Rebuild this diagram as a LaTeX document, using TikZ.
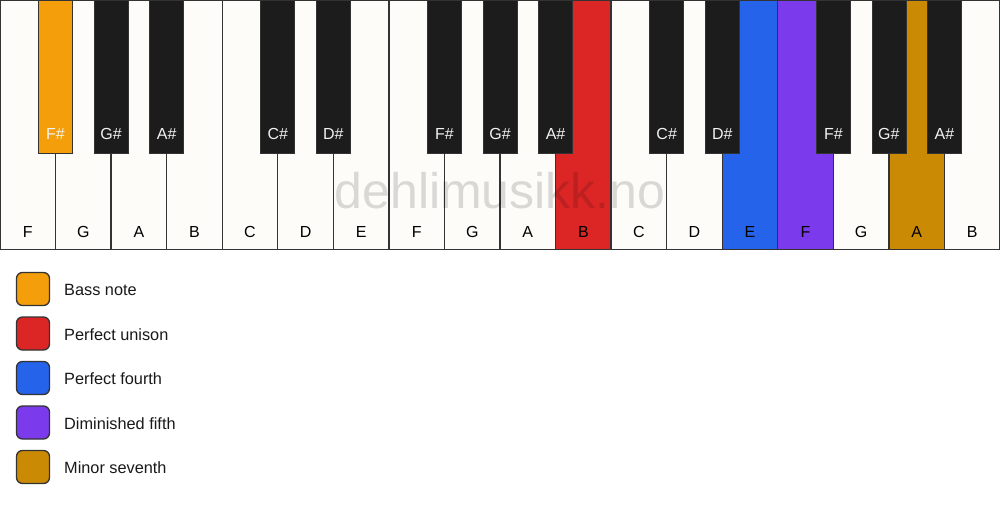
\documentclass[tikz,border=0pt]{standalone}
\usepackage{fontspec}
\setmainfont{Liberation Sans}
\definecolor{keywhite}{HTML}{FDFCF8}
\definecolor{keyblack}{HTML}{1C1C1C}
\definecolor{keyline}{HTML}{333333}
\definecolor{cbass}{HTML}{F59E0B}
\definecolor{cunison}{HTML}{DC2626}
\definecolor{cfourth}{HTML}{2563EB}
\definecolor{cfifth}{HTML}{7C3AED}
\definecolor{cseventh}{HTML}{CA8A04}
\tikzset{
  whitekey/.style={draw=keyline, line width=1.4pt, fill=keywhite},
  blackkey/.style={draw=keyline, line width=0.8pt, fill=keyblack},
  wlabel/.style={anchor=base, font=\fontsize{16}{16}\selectfont, text=black, inner sep=0pt},
  blabel/.style={anchor=base, font=\fontsize{16}{16}\selectfont, text=white!95!black, inner sep=0pt},
  legbox/.style={draw=keyline, line width=1.3pt, rounded corners=6pt, minimum width=33pt, minimum height=33pt, inner sep=0pt},
  legtext/.style={anchor=base west, font=\fontsize{16.3}{17}\selectfont, text=black!90, inner sep=0pt}
}
\begin{document}
\begin{tikzpicture}[x=1pt,y=-1pt]
\useasboundingbox[fill=white] (0,0) rectangle (1000,506);
\def\kw{55.5556}
% white keys
\foreach \n/\c [count=\i from 0] in {F/keywhite,G/keywhite,A/keywhite,B/keywhite,C/keywhite,D/keywhite,E/keywhite,F/keywhite,G/keywhite,A/keywhite,B/cunison,C/keywhite,D/keywhite,E/cfourth,F/cfifth,G/keywhite,A/cseventh,B/keywhite}{
  \path[whitekey, fill=\c] (\i*\kw,0) rectangle ({(\i+1)*\kw},249.5);
  \node[wlabel] (w\i) at ({(\i+0.5)*\kw},237) {\n};
}
% watermark
\node[anchor=base, font=\fontsize{50}{50}\selectfont, text=black, text opacity=0.14, inner sep=0pt] (wm) at (500,208) {dehlimusikk.no};
% black keys
\foreach \b/\n/\c in {1/F\#/cbass,2/G\#/keyblack,3/A\#/keyblack,5/C\#/keyblack,6/D\#/keyblack,8/F\#/keyblack,9/G\#/keyblack,10/A\#/keyblack,12/C\#/keyblack,13/D\#/keyblack,15/F\#/keyblack,16/G\#/keyblack,17/A\#/keyblack}{
  \path[blackkey, fill=\c] ({\b*\kw-17},0) rectangle ({\b*\kw+17},153);
  \node[blabel] (b\b) at ({\b*\kw},139.5) {\n};
}
% legend
\foreach \c/\t [count=\j from 0] in {cbass/Bass note,cunison/Perfect unison,cfourth/Perfect fourth,cfifth/Diminished fifth,cseventh/Minor seventh}{
  \node[legbox, fill=\c] (l\j) at (33,{289+\j*44.5}) {};
  \node[legtext] (t\j) at (64,{295.5+\j*44.5}) {\t};
}
\end{tikzpicture}
\end{document}
